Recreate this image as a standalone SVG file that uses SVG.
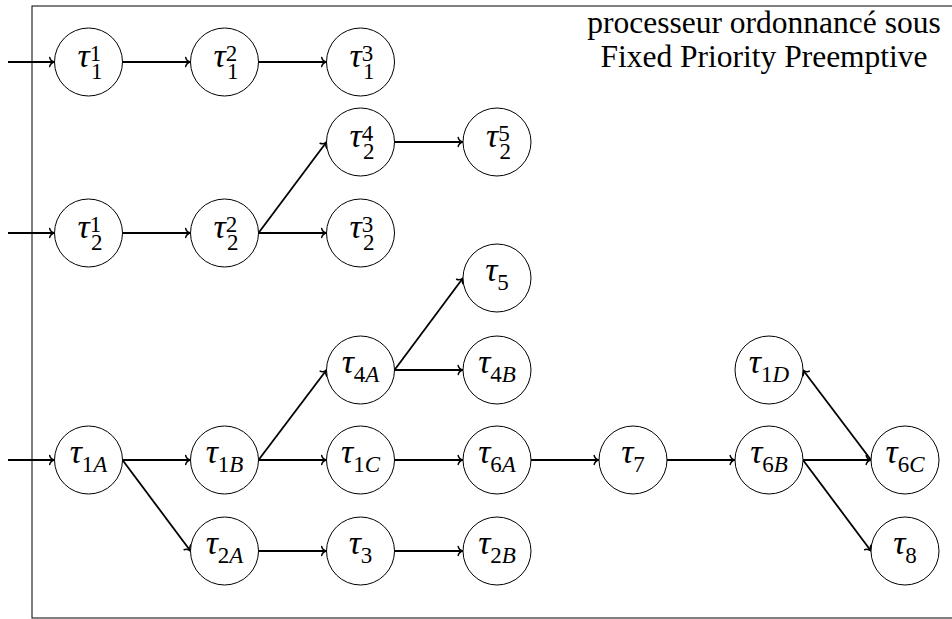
<svg xmlns="http://www.w3.org/2000/svg" width="952" height="619" viewBox="0 0 952 619">
<defs>
<marker id="arr" markerUnits="userSpaceOnUse" markerWidth="12" markerHeight="12" viewBox="-6 -6 12 12" refX="0" refY="0" orient="auto" overflow="visible">
<path d="M-4.8,-4.4 C-4.2,-1.7 -1.6,-0.4 0,0 C-1.6,0.4 -4.2,1.7 -4.8,4.4" fill="none" stroke="#000" stroke-width="1.5" stroke-linecap="round"/>
</marker>
<style>
.n circle{fill:#fff;stroke:#000;stroke-width:1}
.m{font-family:"Liberation Serif","Times New Roman",serif;fill:#000}
.t{font-style:italic;font-size:34px}
.s{font-size:23px;font-style:normal}
.i{font-style:italic}
.c{text-anchor:middle}
.ttl{font-family:"Liberation Serif","Times New Roman",serif;font-size:31.5px;text-anchor:middle;fill:#000}
#edges line{stroke:#000;stroke-width:1.8;marker-end:url(#arr)}
</style>
</defs>
<rect x="32" y="6" width="940" height="612" fill="none" stroke="#000" stroke-width="1"/>
<g id="title">
<text class="ttl" x="764" y="33">processeur ordonnancé sous</text>
<text class="ttl" x="764" y="67">Fixed Priority Preemptive</text>
</g>
<g id="edges">
<line x1="8" y1="62" x2="54.5" y2="62"/>
<line x1="122.5" y1="62" x2="190.5" y2="62"/>
<line x1="258.5" y1="62" x2="326.5" y2="62"/>
<line x1="8" y1="233" x2="54.5" y2="233"/>
<line x1="122.5" y1="233" x2="190.5" y2="233"/>
<line x1="258.5" y1="233" x2="326.5" y2="142"/>
<line x1="258.5" y1="233" x2="326.5" y2="233"/>
<line x1="394.5" y1="142" x2="463" y2="142"/>
<line x1="8" y1="460" x2="54.5" y2="460"/>
<line x1="122.5" y1="460" x2="190.5" y2="460"/>
<line x1="122.5" y1="460" x2="190.5" y2="551"/>
<line x1="258.5" y1="460" x2="326.5" y2="370"/>
<line x1="258.5" y1="460" x2="326.5" y2="460"/>
<line x1="394.5" y1="370" x2="463" y2="278"/>
<line x1="394.5" y1="370" x2="463" y2="370"/>
<line x1="394.5" y1="460" x2="463" y2="460"/>
<line x1="531" y1="460" x2="599" y2="460"/>
<line x1="667" y1="460" x2="735" y2="460"/>
<line x1="803" y1="460" x2="871" y2="460"/>
<line x1="803" y1="460" x2="871" y2="551"/>
<line x1="871" y1="460" x2="803" y2="370"/>
<line x1="258.5" y1="551" x2="326.5" y2="551"/>
<line x1="394.5" y1="551" x2="463" y2="551"/>
</g>
<g id="t1_1" class="n"><circle cx="88.5" cy="62" r="34"/><text class="m" x="77.5" y="67"><tspan class="t">τ</tspan><tspan class="s" dy="-6">1</tspan><tspan class="s" x="91" dy="18">1</tspan></text></g>
<g id="t1_2" class="n"><circle cx="224.5" cy="62" r="34"/><text class="m" x="213.5" y="67"><tspan class="t">τ</tspan><tspan class="s" dy="-6">2</tspan><tspan class="s" x="227" dy="18">1</tspan></text></g>
<g id="t1_3" class="n"><circle cx="360.5" cy="62" r="34"/><text class="m" x="349.5" y="67"><tspan class="t">τ</tspan><tspan class="s" dy="-6">3</tspan><tspan class="s" x="363" dy="18">1</tspan></text></g>
<g id="t2_4" class="n"><circle cx="360.5" cy="142" r="34"/><text class="m" x="349.5" y="147"><tspan class="t">τ</tspan><tspan class="s" dy="-6">4</tspan><tspan class="s" x="363" dy="18">2</tspan></text></g>
<g id="t2_5" class="n"><circle cx="497" cy="142" r="34"/><text class="m" x="486" y="147"><tspan class="t">τ</tspan><tspan class="s" dy="-6">5</tspan><tspan class="s" x="499.5" dy="18">2</tspan></text></g>
<g id="t2_1" class="n"><circle cx="88.5" cy="233" r="34"/><text class="m" x="77.5" y="238"><tspan class="t">τ</tspan><tspan class="s" dy="-6">1</tspan><tspan class="s" x="91" dy="18">2</tspan></text></g>
<g id="t2_2" class="n"><circle cx="224.5" cy="233" r="34"/><text class="m" x="213.5" y="238"><tspan class="t">τ</tspan><tspan class="s" dy="-6">2</tspan><tspan class="s" x="227" dy="18">2</tspan></text></g>
<g id="t2_3" class="n"><circle cx="360.5" cy="233" r="34"/><text class="m" x="349.5" y="238"><tspan class="t">τ</tspan><tspan class="s" dy="-6">3</tspan><tspan class="s" x="363" dy="18">2</tspan></text></g>
<g id="t5" class="n"><circle cx="497" cy="278" r="34"/><text class="m c" x="497" y="281"><tspan class="t">τ</tspan><tspan class="s" dy="9">5</tspan></text></g>
<g id="t4A" class="n"><circle cx="360.5" cy="370" r="34"/><text class="m c" x="360.5" y="373"><tspan class="t">τ</tspan><tspan class="s" dy="9">4</tspan><tspan class="s i">A</tspan></text></g>
<g id="t4B" class="n"><circle cx="497" cy="370" r="34"/><text class="m c" x="497" y="373"><tspan class="t">τ</tspan><tspan class="s" dy="9">4</tspan><tspan class="s i">B</tspan></text></g>
<g id="t1D" class="n"><circle cx="769" cy="370" r="34"/><text class="m c" x="769" y="373"><tspan class="t">τ</tspan><tspan class="s" dy="9">1</tspan><tspan class="s i">D</tspan></text></g>
<g id="t1A" class="n"><circle cx="88.5" cy="460" r="34"/><text class="m c" x="88.5" y="463"><tspan class="t">τ</tspan><tspan class="s" dy="9">1</tspan><tspan class="s i">A</tspan></text></g>
<g id="t1B" class="n"><circle cx="224.5" cy="460" r="34"/><text class="m c" x="224.5" y="463"><tspan class="t">τ</tspan><tspan class="s" dy="9">1</tspan><tspan class="s i">B</tspan></text></g>
<g id="t1C" class="n"><circle cx="360.5" cy="460" r="34"/><text class="m c" x="360.5" y="463"><tspan class="t">τ</tspan><tspan class="s" dy="9">1</tspan><tspan class="s i">C</tspan></text></g>
<g id="t6A" class="n"><circle cx="497" cy="460" r="34"/><text class="m c" x="497" y="463"><tspan class="t">τ</tspan><tspan class="s" dy="9">6</tspan><tspan class="s i">A</tspan></text></g>
<g id="t7" class="n"><circle cx="633" cy="460" r="34"/><text class="m c" x="633" y="463"><tspan class="t">τ</tspan><tspan class="s" dy="9">7</tspan></text></g>
<g id="t6B" class="n"><circle cx="769" cy="460" r="34"/><text class="m c" x="769" y="463"><tspan class="t">τ</tspan><tspan class="s" dy="9">6</tspan><tspan class="s i">B</tspan></text></g>
<g id="t6C" class="n"><circle cx="905" cy="460" r="34"/><text class="m c" x="905" y="463"><tspan class="t">τ</tspan><tspan class="s" dy="9">6</tspan><tspan class="s i">C</tspan></text></g>
<g id="t2A" class="n"><circle cx="224.5" cy="551" r="34"/><text class="m c" x="224.5" y="554"><tspan class="t">τ</tspan><tspan class="s" dy="9">2</tspan><tspan class="s i">A</tspan></text></g>
<g id="t3" class="n"><circle cx="360.5" cy="551" r="34"/><text class="m c" x="360.5" y="554"><tspan class="t">τ</tspan><tspan class="s" dy="9">3</tspan></text></g>
<g id="t2B" class="n"><circle cx="497" cy="551" r="34"/><text class="m c" x="497" y="554"><tspan class="t">τ</tspan><tspan class="s" dy="9">2</tspan><tspan class="s i">B</tspan></text></g>
<g id="t8" class="n"><circle cx="905" cy="551" r="34"/><text class="m c" x="905" y="554"><tspan class="t">τ</tspan><tspan class="s" dy="9">8</tspan></text></g>
</svg>
